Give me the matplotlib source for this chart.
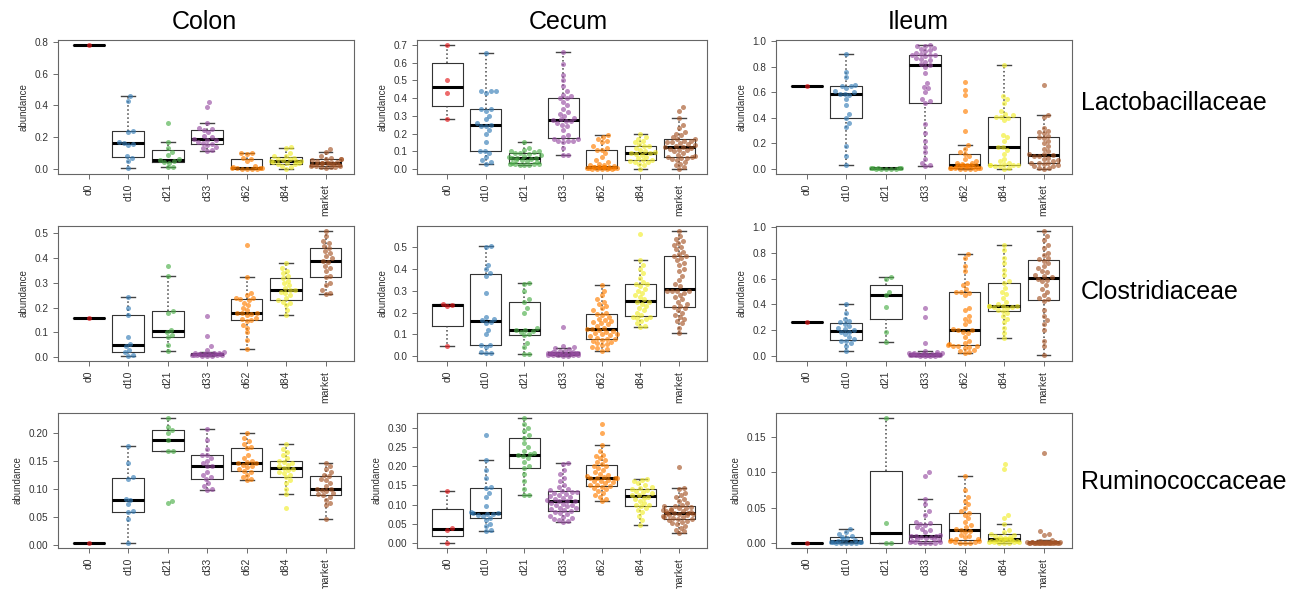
import numpy as np
import matplotlib
matplotlib.use("Agg")
import matplotlib.pyplot as plt
from matplotlib.ticker import MultipleLocator, FormatStrFormatter

plt.rcParams['font.family'] = ['Liberation Sans', 'DejaVu Sans']

groups = ["d0", "d10", "d21", "d33", "d62", "d84", "market"]
sites = ["Colon", "Cecum", "Ileum"]
families = ["Lactobacillaceae", "Clostridiaceae", "Ruminococcaceae"]
colors = ["#E41A1C", "#377EB8", "#4DAF4A", "#984EA3", "#FF7F00", "#F2EE2E", "#A65628"]

# abundance values, one list per group (d0 .. market)
colon_lacto = [
    [0.78],
    [0.005, 0.05, 0.07, 0.08, 0.15, 0.16, 0.165, 0.17, 0.235, 0.24, 0.43, 0.46],
    [0.01, 0.01, 0.04, 0.045, 0.05, 0.055, 0.06, 0.09, 0.11, 0.13, 0.17, 0.29],
    [0.115, 0.12, 0.13, 0.14, 0.15, 0.16, 0.165, 0.17, 0.18, 0.185, 0.19, 0.20,
     0.21, 0.23, 0.245, 0.25, 0.26, 0.29, 0.39, 0.42],
    [0.0, 0.0, 0.002, 0.003, 0.005, 0.005, 0.005, 0.005, 0.01, 0.02, 0.05, 0.06,
     0.07, 0.095, 0.10, 0.10],
    [0.0, 0.01, 0.02, 0.03, 0.03, 0.035, 0.04, 0.045, 0.05, 0.05, 0.05, 0.055,
     0.06, 0.065, 0.07, 0.08, 0.085, 0.10, 0.13, 0.14],
    [0.005, 0.01, 0.01, 0.015, 0.02, 0.02, 0.02, 0.025, 0.025, 0.03, 0.03, 0.035,
     0.035, 0.035, 0.04, 0.04, 0.045, 0.05, 0.055, 0.06, 0.06, 0.065, 0.07, 0.08,
     0.11, 0.125],
]
cecum_lacto = [
    [0.28, 0.43, 0.50, 0.70],
    [0.03, 0.04, 0.05, 0.07, 0.09, 0.10, 0.10, 0.15, 0.20, 0.22, 0.24, 0.245,
     0.25, 0.26, 0.28, 0.30, 0.33, 0.34, 0.34, 0.43, 0.44, 0.44, 0.44, 0.655],
    [0.02, 0.02, 0.025, 0.03, 0.03, 0.03, 0.03, 0.035, 0.04, 0.045, 0.05, 0.05,
     0.055, 0.06, 0.06, 0.065, 0.07, 0.075, 0.08, 0.085, 0.09, 0.09, 0.095, 0.10,
     0.10, 0.105, 0.12, 0.155],
    [0.08, 0.08, 0.12, 0.15, 0.16, 0.16, 0.16, 0.17, 0.17, 0.18, 0.19, 0.22,
     0.24, 0.25, 0.26, 0.27, 0.27, 0.275, 0.28, 0.29, 0.30, 0.31, 0.32, 0.34,
     0.36, 0.38, 0.40, 0.40, 0.41, 0.42, 0.44, 0.47, 0.50, 0.53, 0.59, 0.66],
    [0.0, 0.0, 0.0, 0.002, 0.003, 0.004, 0.005, 0.006, 0.007, 0.008, 0.009, 0.01,
     0.01, 0.011, 0.012, 0.012, 0.013, 0.015, 0.02, 0.025, 0.03, 0.04, 0.05, 0.07,
     0.09, 0.11, 0.11, 0.12, 0.13, 0.15, 0.16, 0.17, 0.18, 0.19],
    [0.0, 0.02, 0.03, 0.04, 0.04, 0.045, 0.05, 0.05, 0.06, 0.07, 0.08, 0.085,
     0.09, 0.09, 0.095, 0.10, 0.11, 0.12, 0.13, 0.13, 0.14, 0.15, 0.16, 0.17,
     0.18, 0.20],
    [0.0, 0.01, 0.02, 0.03, 0.04, 0.05, 0.055, 0.06, 0.065, 0.07, 0.07, 0.075,
     0.08, 0.09, 0.10, 0.105, 0.11, 0.115, 0.12, 0.125, 0.125, 0.13, 0.135, 0.14,
     0.145, 0.15, 0.155, 0.16, 0.16, 0.17, 0.17, 0.18, 0.19, 0.20, 0.21, 0.23,
     0.25, 0.29, 0.33, 0.35],
]
ileum_lacto = [
    [0.65],
    [0.03, 0.10, 0.18, 0.33, 0.36, 0.40, 0.43, 0.50, 0.55, 0.58, 0.59, 0.59,
     0.60, 0.61, 0.63, 0.65, 0.65, 0.66, 0.72, 0.76, 0.90],
    [0.001, 0.002, 0.002, 0.003, 0.004, 0.005, 0.006, 0.008, 0.01, 0.012],
    [0.02, 0.03, 0.05, 0.08, 0.13, 0.17, 0.22, 0.28, 0.35, 0.52, 0.53, 0.55,
     0.60, 0.63, 0.64, 0.67, 0.75, 0.80, 0.81, 0.82, 0.84, 0.85, 0.86, 0.87,
     0.88, 0.89, 0.89, 0.89, 0.90, 0.91, 0.92, 0.93, 0.94, 0.95, 0.96, 0.96, 0.97],
    [0.0, 0.0, 0.002, 0.004, 0.005, 0.005, 0.008, 0.01, 0.012, 0.015, 0.018, 0.02,
     0.022, 0.025, 0.028, 0.03, 0.03, 0.032, 0.035, 0.04, 0.045, 0.05, 0.06, 0.08,
     0.10, 0.12, 0.13, 0.16, 0.19, 0.30, 0.45, 0.58, 0.62, 0.68],
    [0.0, 0.01, 0.02, 0.025, 0.03, 0.03, 0.03, 0.035, 0.04, 0.05, 0.06, 0.08,
     0.12, 0.15, 0.17, 0.17, 0.22, 0.25, 0.27, 0.38, 0.40, 0.41, 0.41, 0.42,
     0.43, 0.45, 0.52, 0.55, 0.57, 0.81],
    [0.0, 0.005, 0.01, 0.02, 0.02, 0.03, 0.04, 0.05, 0.05, 0.05, 0.06, 0.07,
     0.08, 0.09, 0.10, 0.105, 0.11, 0.115, 0.12, 0.14, 0.16, 0.18, 0.20, 0.22,
     0.24, 0.25, 0.26, 0.28, 0.29, 0.30, 0.32, 0.41, 0.42, 0.66],
]
colon_clos = [
    [0.16],
    [0.005, 0.01, 0.02, 0.03, 0.045, 0.055, 0.08, 0.17, 0.20, 0.245],
    [0.025, 0.05, 0.08, 0.09, 0.10, 0.11, 0.18, 0.185, 0.33, 0.37],
    [0.005, 0.006, 0.007, 0.008, 0.009, 0.01, 0.01, 0.011, 0.012, 0.012, 0.013,
     0.013, 0.013, 0.014, 0.014, 0.015, 0.016, 0.017, 0.018, 0.02, 0.03, 0.045,
     0.085, 0.165],
    [0.035, 0.07, 0.10, 0.12, 0.13, 0.145, 0.15, 0.155, 0.16, 0.17, 0.175, 0.18,
     0.18, 0.18, 0.19, 0.20, 0.21, 0.22, 0.23, 0.235, 0.24, 0.24, 0.25, 0.26,
     0.325, 0.455],
    [0.17, 0.19, 0.21, 0.22, 0.225, 0.23, 0.24, 0.25, 0.26, 0.265, 0.27, 0.27,
     0.28, 0.29, 0.30, 0.31, 0.32, 0.33, 0.34, 0.35, 0.36, 0.38],
    [0.255, 0.26, 0.27, 0.29, 0.30, 0.325, 0.33, 0.35, 0.36, 0.37, 0.385, 0.39,
     0.40, 0.41, 0.42, 0.43, 0.44, 0.45, 0.46, 0.47, 0.49, 0.51],
]
cecum_clos = [
    [0.045, 0.23, 0.235, 0.24],
    [0.015, 0.015, 0.02, 0.04, 0.05, 0.05, 0.10, 0.12, 0.15, 0.155, 0.165, 0.17,
     0.18, 0.29, 0.37, 0.38, 0.40, 0.42, 0.50, 0.505],
    [0.01, 0.01, 0.04, 0.06, 0.095, 0.10, 0.11, 0.115, 0.12, 0.12, 0.13, 0.20,
     0.22, 0.25, 0.26, 0.30, 0.33, 0.335],
    [0.0, 0.002, 0.003, 0.004, 0.005, 0.005, 0.006, 0.007, 0.008, 0.008, 0.009,
     0.01, 0.01, 0.01, 0.011, 0.012, 0.012, 0.013, 0.014, 0.015, 0.016, 0.018,
     0.02, 0.022, 0.025, 0.03, 0.035, 0.04, 0.045, 0.135],
    [0.025, 0.03, 0.035, 0.04, 0.05, 0.055, 0.06, 0.065, 0.07, 0.075, 0.08, 0.08,
     0.085, 0.09, 0.095, 0.10, 0.10, 0.105, 0.11, 0.115, 0.12, 0.125, 0.125, 0.13,
     0.14, 0.145, 0.15, 0.155, 0.16, 0.165, 0.17, 0.18, 0.19, 0.195, 0.20, 0.21,
     0.22, 0.23, 0.24, 0.25, 0.26, 0.28, 0.30, 0.325],
    [0.135, 0.14, 0.15, 0.16, 0.17, 0.175, 0.18, 0.18, 0.19, 0.20, 0.21, 0.22,
     0.23, 0.24, 0.25, 0.25, 0.26, 0.27, 0.28, 0.29, 0.30, 0.31, 0.32, 0.33,
     0.33, 0.34, 0.36, 0.38, 0.40, 0.42, 0.44, 0.56],
    [0.105, 0.13, 0.15, 0.16, 0.17, 0.18, 0.19, 0.20, 0.21, 0.22, 0.225, 0.23,
     0.24, 0.25, 0.26, 0.27, 0.28, 0.29, 0.30, 0.30, 0.30, 0.30, 0.32, 0.33,
     0.35, 0.37, 0.39, 0.40, 0.42, 0.43, 0.44, 0.45, 0.46, 0.46, 0.47, 0.48,
     0.49, 0.50, 0.51, 0.52, 0.53, 0.54, 0.55, 0.575],
]
ileum_clos = [
    [0.26],
    [0.04, 0.08, 0.10, 0.12, 0.12, 0.13, 0.15, 0.17, 0.19, 0.19, 0.20, 0.21,
     0.22, 0.23, 0.25, 0.26, 0.27, 0.29, 0.33, 0.40],
    [0.11, 0.19, 0.38, 0.47, 0.50, 0.60, 0.61],
    [0.0, 0.0, 0.002, 0.003, 0.004, 0.005, 0.005, 0.006, 0.007, 0.008, 0.009,
     0.01, 0.01, 0.01, 0.012, 0.013, 0.015, 0.016, 0.018, 0.02, 0.022, 0.025,
     0.03, 0.04, 0.10, 0.30, 0.37],
    [0.02, 0.03, 0.04, 0.05, 0.06, 0.07, 0.075, 0.08, 0.08, 0.085, 0.09, 0.10,
     0.12, 0.15, 0.18, 0.19, 0.20, 0.20, 0.21, 0.25, 0.27, 0.29, 0.31, 0.36,
     0.37, 0.47, 0.49, 0.50, 0.50, 0.52, 0.55, 0.57, 0.66, 0.70, 0.76, 0.79],
    [0.14, 0.18, 0.22, 0.26, 0.29, 0.31, 0.33, 0.35, 0.36, 0.37, 0.38, 0.38,
     0.39, 0.39, 0.39, 0.39, 0.40, 0.42, 0.45, 0.48, 0.50, 0.53, 0.57, 0.58,
     0.63, 0.67, 0.72, 0.76, 0.82, 0.86],
    [0.01, 0.08, 0.12, 0.20, 0.25, 0.28, 0.31, 0.36, 0.43, 0.44, 0.45, 0.47,
     0.50, 0.52, 0.55, 0.58, 0.59, 0.60, 0.61, 0.62, 0.63, 0.65, 0.66, 0.68,
     0.70, 0.72, 0.74, 0.75, 0.76, 0.78, 0.80, 0.84, 0.86, 0.90, 0.93, 0.97],
]
colon_rumi = [
    [0.003],
    [0.003, 0.045, 0.058, 0.06, 0.072, 0.08, 0.082, 0.118, 0.12, 0.145, 0.176],
    [0.075, 0.078, 0.167, 0.167, 0.187, 0.20, 0.205, 0.21, 0.226],
    [0.098, 0.10, 0.105, 0.11, 0.118, 0.12, 0.125, 0.13, 0.14, 0.14, 0.145,
     0.15, 0.155, 0.16, 0.16, 0.17, 0.186, 0.206],
    [0.115, 0.118, 0.12, 0.125, 0.13, 0.132, 0.135, 0.138, 0.14, 0.142, 0.145,
     0.145, 0.148, 0.15, 0.155, 0.16, 0.172, 0.175, 0.18, 0.185, 0.19, 0.20],
    [0.065, 0.09, 0.10, 0.11, 0.115, 0.12, 0.125, 0.128, 0.13, 0.133, 0.135,
     0.137, 0.14, 0.142, 0.145, 0.148, 0.15, 0.155, 0.16, 0.165, 0.17, 0.18],
    [0.045, 0.07, 0.075, 0.08, 0.085, 0.088, 0.09, 0.092, 0.095, 0.098, 0.10,
     0.10, 0.105, 0.11, 0.115, 0.118, 0.122, 0.125, 0.13, 0.135, 0.14, 0.145],
]
cecum_rumi = [
    [0.0, 0.035, 0.04, 0.135],
    [0.032, 0.035, 0.045, 0.05, 0.06, 0.065, 0.07, 0.072, 0.075, 0.076, 0.078,
     0.078, 0.08, 0.095, 0.12, 0.13, 0.143, 0.145, 0.17, 0.19, 0.217, 0.28],
    [0.124, 0.125, 0.14, 0.16, 0.18, 0.196, 0.20, 0.21, 0.22, 0.225, 0.228,
     0.232, 0.235, 0.24, 0.25, 0.26, 0.273, 0.28, 0.29, 0.30, 0.31, 0.325],
    [0.055, 0.058, 0.06, 0.062, 0.065, 0.068, 0.07, 0.075, 0.078, 0.08, 0.083,
     0.085, 0.088, 0.09, 0.092, 0.095, 0.098, 0.10, 0.102, 0.105, 0.108, 0.11,
     0.11, 0.112, 0.115, 0.118, 0.12, 0.122, 0.125, 0.128, 0.13, 0.132, 0.133,
     0.135, 0.138, 0.14, 0.145, 0.15, 0.16, 0.17, 0.18, 0.19, 0.205, 0.208],
    [0.108, 0.115, 0.12, 0.125, 0.13, 0.135, 0.14, 0.142, 0.145, 0.148, 0.15,
     0.152, 0.155, 0.158, 0.16, 0.162, 0.165, 0.168, 0.17, 0.17, 0.17, 0.172,
     0.175, 0.178, 0.18, 0.185, 0.19, 0.195, 0.20, 0.20, 0.205, 0.21, 0.215,
     0.22, 0.225, 0.23, 0.24, 0.255, 0.285, 0.31],
    [0.048, 0.06, 0.07, 0.08, 0.085, 0.09, 0.095, 0.10, 0.10, 0.105, 0.11, 0.115,
     0.118, 0.12, 0.124, 0.126, 0.13, 0.132, 0.135, 0.138, 0.14, 0.143, 0.145,
     0.15, 0.155, 0.16, 0.163, 0.166],
    [0.025, 0.03, 0.035, 0.04, 0.045, 0.05, 0.052, 0.055, 0.058, 0.06, 0.062,
     0.063, 0.065, 0.067, 0.068, 0.07, 0.072, 0.073, 0.075, 0.076, 0.077, 0.078,
     0.078, 0.08, 0.082, 0.083, 0.085, 0.087, 0.088, 0.09, 0.092, 0.094, 0.095,
     0.096, 0.10, 0.105, 0.11, 0.115, 0.12, 0.125, 0.13, 0.14, 0.144, 0.198],
]
ileum_rumi = [
    [0.0],
    [0.0, 0.0, 0.0, 0.0, 0.0, 0.001, 0.001, 0.002, 0.002, 0.003, 0.004, 0.005,
     0.007, 0.008, 0.01, 0.013, 0.015, 0.02],
    [0.0, 0.0, 0.028, 0.177],
    [0.0, 0.0, 0.0, 0.0, 0.001, 0.001, 0.002, 0.003, 0.004, 0.005, 0.006, 0.007,
     0.008, 0.009, 0.01, 0.01, 0.01, 0.012, 0.015, 0.018, 0.02, 0.022, 0.025,
     0.027, 0.028, 0.03, 0.04, 0.045, 0.055, 0.063, 0.095, 0.10],
    [0.0, 0.0, 0.0, 0.001, 0.002, 0.003, 0.003, 0.004, 0.005, 0.006, 0.008, 0.01,
     0.012, 0.015, 0.017, 0.019, 0.02, 0.022, 0.025, 0.03, 0.035, 0.04, 0.042,
     0.045, 0.05, 0.055, 0.06, 0.065, 0.075, 0.095],
    [0.0, 0.0, 0.0, 0.001, 0.001, 0.002, 0.002, 0.003, 0.003, 0.003, 0.004, 0.004,
     0.005, 0.005, 0.005, 0.005, 0.006, 0.007, 0.008, 0.009, 0.01, 0.012, 0.013,
     0.015, 0.018, 0.027, 0.035, 0.04, 0.105, 0.112],
    [0.0] * 12 + [0.0005] * 5 + [0.001] * 4 + [0.0015] * 3 + [0.002] * 4
    + [0.003, 0.004, 0.012, 0.013, 0.017, 0.128],
]

panels = [[colon_lacto, cecum_lacto, ileum_lacto],
          [colon_clos, cecum_clos, ileum_clos],
          [colon_rumi, cecum_rumi, ileum_rumi]]
tick_steps = [[0.2, 0.1, 0.2], [0.1, 0.1, 0.2], [0.05, 0.05, 0.05]]


def r_stats(v):
    # boxplot.stats as in R: Tukey hinges, whiskers at 1.5 * IQR
    v = np.sort(np.asarray(v, dtype=float))
    n = len(v)
    n4 = np.floor((n + 3) / 2) / 2
    d = np.array([1, n4, (n + 1) / 2, n + 1 - n4, n]) - 1
    fn = 0.5 * (v[np.floor(d).astype(int)] + v[np.ceil(d).astype(int)])
    iqr = fn[3] - fn[1]
    lo = v[v >= fn[1] - 1.5 * iqr - 1e-12].min()
    hi = v[v <= fn[3] + 1.5 * iqr + 1e-12].max()
    return dict(med=fn[2], q1=fn[1], q3=fn[3], whislo=lo, whishi=hi, fliers=[])


def swarm(ypix, dia, half):
    # simple beeswarm, points that run past +-half are wrapped back in
    xs = np.zeros(len(ypix))
    placed = []
    for i in np.argsort(ypix, kind="stable"):
        cands = [0.0]
        for j in placed:
            dy = ypix[i] - ypix[j]
            if abs(dy) < dia:
                dx = np.sqrt(dia * dia - dy * dy)
                cands += [xs[j] + dx, xs[j] - dx]
        cands.sort(key=abs)
        for c in cands:
            if all((c - xs[j]) ** 2 + (ypix[i] - ypix[j]) ** 2 >= dia * dia - 1e-6
                   for j in placed):
                xs[i] = c
                break
        placed.append(i)
    out = xs.copy()
    far = np.abs(out) > half
    out[far] = np.mod(out[far] + half, 2 * half) - half
    return out


W, H = 1302, 589
fig = plt.figure(figsize=(W / 100, H / 100), dpi=100)
col_px = [(58, 354), (417, 707), (776, 1072)]
row_px = [(40, 174), (226, 361), (413, 548)]
xlim = (0.22, 7.72)
dot = 5.0  # px

for r in range(3):
    for c in range(3):
        x0, x1 = col_px[c]
        y0, y1 = row_px[r]
        ax = fig.add_axes([x0 / W, 1 - y1 / H, (x1 - x0) / W, (y1 - y0) / H])
        data = panels[r][c]
        allv = np.concatenate([np.asarray(v, float) for v in data])
        lo, hi = allv.min(), allv.max()
        pad = 0.04 * (hi - lo)
        ax.set_ylim(lo - pad, hi + pad)
        ax.set_xlim(*xlim)

        stats = [r_stats(v) for v in data]
        ax.bxp(stats, positions=range(1, 8), widths=0.8, showfliers=False,
               capwidths=0.35,
               boxprops=dict(color="#333333", lw=0.8),
               medianprops=dict(color="black", lw=2.2, solid_capstyle="butt"),
               whiskerprops=dict(color="#444444", lw=1.1, ls=":"),
               capprops=dict(color="#444444", lw=1.0), zorder=2)

        ppx = (x1 - x0) / (xlim[1] - xlim[0])
        ppy = (y1 - y0) / (hi - lo + 2 * pad)
        for i, v in enumerate(data):
            v = np.asarray(v, float)
            xo = swarm(v * ppy, dot, 0.42 * ppx) / ppx
            ax.scatter(i + 1 + xo, v, s=13, color=colors[i], alpha=0.65,
                       linewidths=0, zorder=3)

        ax.set_xticks(range(1, 8))
        ax.set_xticklabels(groups, rotation=90, fontsize=7.5, color="#333333")
        ax.yaxis.set_major_locator(MultipleLocator(tick_steps[r][c]))
        ax.yaxis.set_major_formatter(
            FormatStrFormatter("%.2f" if tick_steps[r][c] < 0.1 else "%.1f"))
        ax.tick_params(axis="y", labelsize=7.2, labelcolor="#333333")
        ax.tick_params(direction="out", length=3.5, width=0.6, color="#555555")
        ax.set_ylabel("abundance", fontsize=7, color="#333333", labelpad=4)
        for s in ax.spines.values():
            s.set_color("#666666")
            s.set_linewidth(0.8)

title_x = [204, 568, 918]
for c in range(3):
    fig.text(title_x[c] / W, 1 - 22 / H, sites[c], fontsize=18,
             ha="center", va="center")
label_y = [103, 292, 482]
for r in range(3):
    fig.text(1081 / W, 1 - label_y[r] / H, families[r], fontsize=18,
             ha="left", va="center")

fig.savefig("out.png", dpi=100)
